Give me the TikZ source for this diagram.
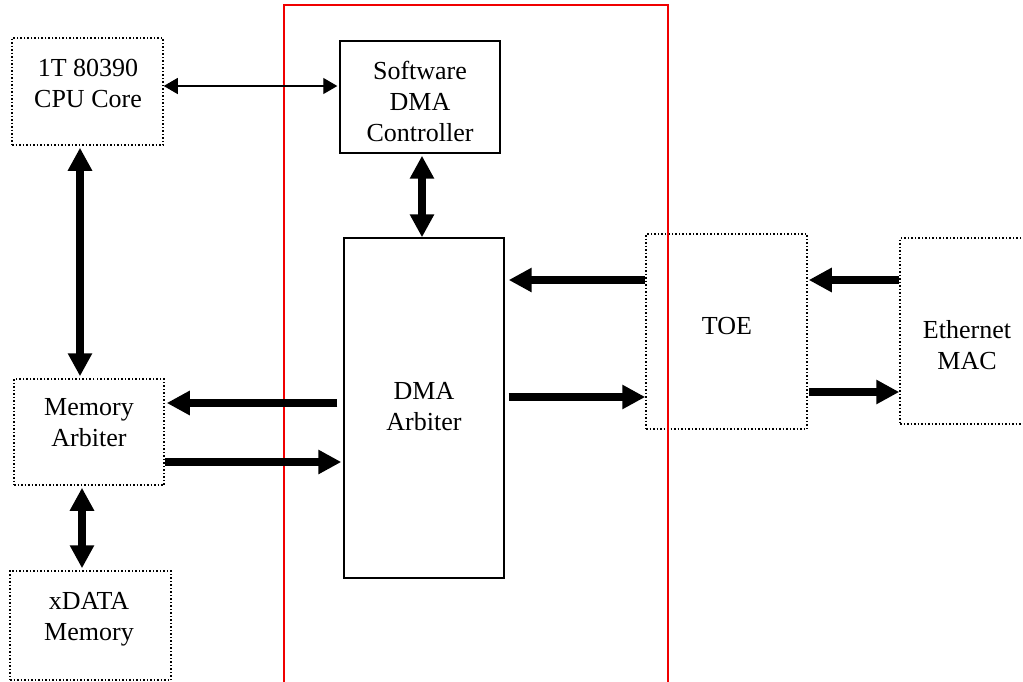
\documentclass[tikz,border=0pt]{standalone}
\usepackage{fontspec}
\setmainfont{Liberation Serif}
\usepackage{tikz}
\usetikzlibrary{arrows.meta, positioning, calc, fit}
\definecolor{dmaRed}{RGB}{240, 0, 0}
\tikzset{
    dotBox/.style={draw, line width=0.75pt, densely dotted, inner sep=0pt},
    solidBox/.style={draw, line width=0.7pt, inner sep=0pt},
    boxText/.style={align=center, inner sep=0pt, font=\fontsize{13}{15.5}\selectfont},
    busArrow/.style={line width=4pt, -{Triangle[length=11.5pt, width=11.5pt]}},
    busBoth/.style={line width=4pt, {Triangle[length=11.5pt, width=11.5pt]}-{Triangle[length=11.5pt, width=11.5pt]}},
    thinBoth/.style={line width=0.6pt, {Triangle[length=7pt, width=8pt]}-{Triangle[length=7pt, width=8pt]}},
}

\begin{document}
\begin{tikzpicture}[x=0.5pt, y=-0.5pt]

    \clip (0,0) rectangle (1023,681);

    % Boxes
    \node[dotBox, fit={(12,38) (163,145)}] (cpu) {};
    \node[solidBox, fit={(340,41) (500,153)}] (swdma) {};
    \node[solidBox, fit={(344,238) (504,578)}] (dmaarb) {};
    \node[dotBox, fit={(646,234) (807,429)}] (toe) {};
    \node[dotBox, fit={(900,238) (1032,424)}] (emac) {};
    \node[dotBox, fit={(14,379) (164,485)}] (memarb) {};
    \node[dotBox, fit={(10,571) (171,680)}] (xdata) {};

    % DMA region
    \draw[dmaRed, line width=0.8pt] (284,700) -- (284,5) -- (668,5) -- (668,700);

    % Labels
    \node[boxText] (cpuText) at (88,83) {1T 80390\\CPU Core};
    \node[boxText] (swdmaText) at (420,101) {Software\\DMA\\Controller};
    \node[boxText] (dmaarbText) at (424,407) {DMA\\Arbiter};
    \node[boxText] (toeText) at (727,326) {TOE};
    \node[boxText] (emacText) at (967,345) {Ethernet\\MAC};
    \node[boxText] (memarbText) at (89,423) {Memory\\Arbiter};
    \node[boxText] (xdataText) at (89,619) {xDATA\\Memory};

    % Arrows
    \draw[thinBoth] ($(cpu.east)+(0,-5.5)$) -- ($(swdma.west)+(-2,-11)$);
    \draw[busBoth] ($(cpu.south)+(-7.5,2)$) -- ($(memarb.north)+(-9,-2)$);
    \draw[busBoth] ($(swdma.south)+(2,2)$) -- ($(dmaarb.north)+(-2,0)$);
    \draw[busBoth] ($(memarb.south)+(-7,2)$) -- ($(xdata.north)+(-8.5,-2)$);

    \draw[busArrow] ($(dmaarb.west)+(-6,-5)$) -- ($(memarb.east)+(2,-29)$);
    \draw[busArrow] ($(memarb.east)+(0,30)$) -- ($(dmaarb.west)+(-2,54)$);

    \draw[busArrow] ($(toe.west)+(0,-51.5)$) -- ($(dmaarb.east)+(4,-128)$);
    \draw[busArrow] ($(dmaarb.east)+(4,-11)$) -- ($(toe.west)+(0,65.5)$);

    \draw[busArrow] ($(emac.west)+(0,-51)$) -- ($(toe.east)+(1,-51.5)$);
    \draw[busArrow] ($(toe.east)+(1,60.5)$) -- ($(emac.west)+(0,61)$);

\end{tikzpicture}
\end{document}
